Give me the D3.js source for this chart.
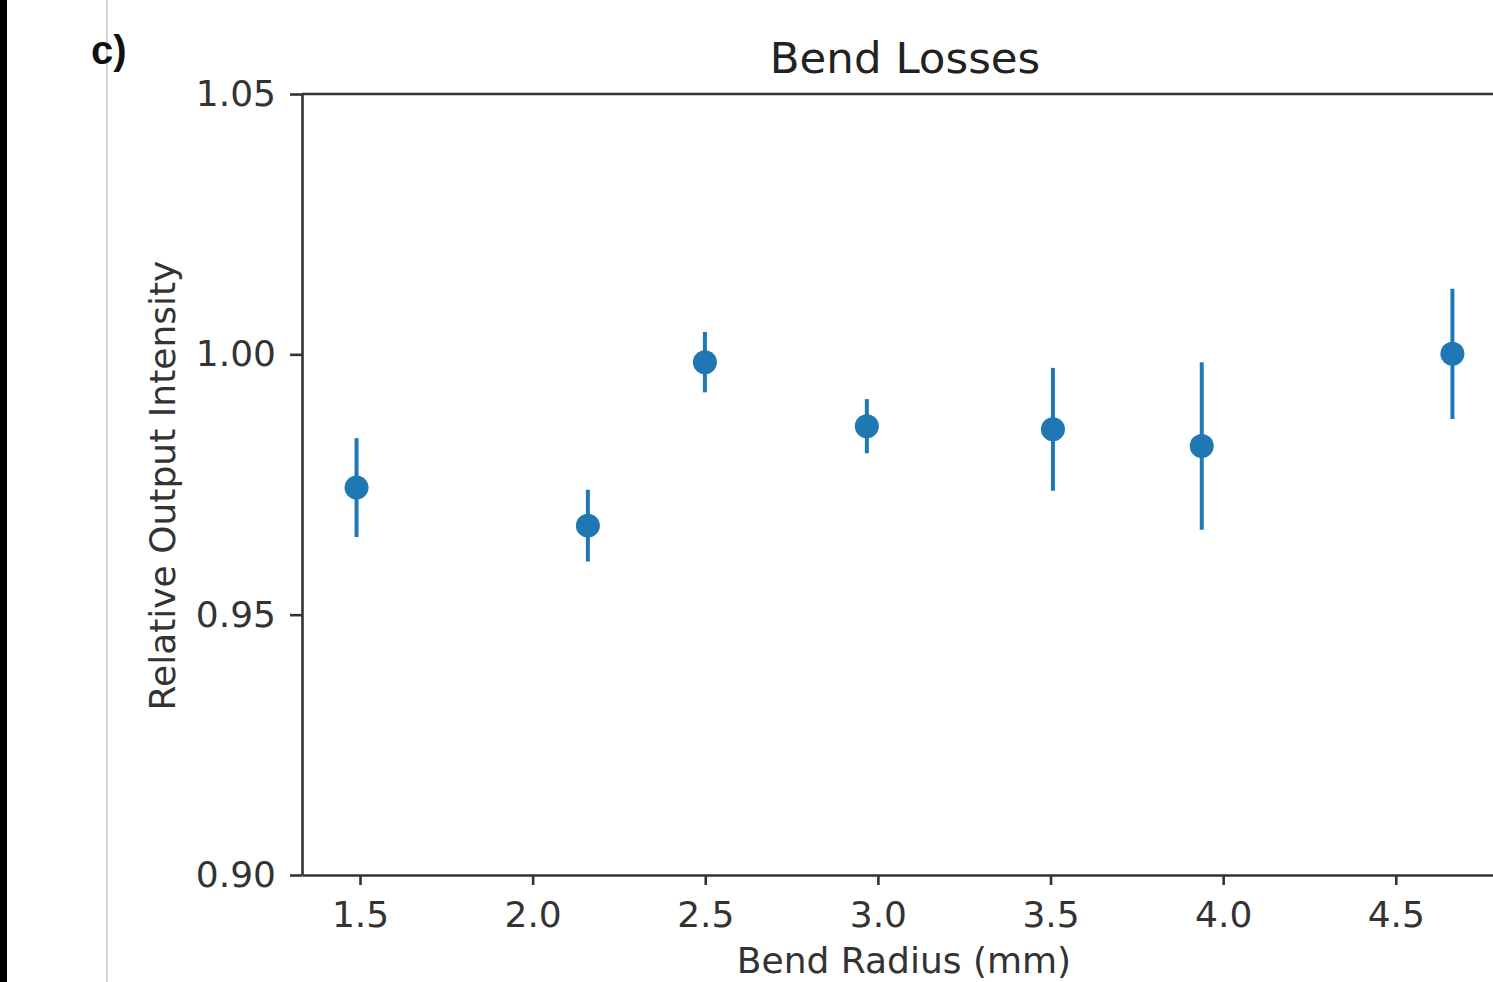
<!DOCTYPE html>
<html>
<head>
<meta charset="utf-8">
<script src="https://cdn.jsdelivr.net/npm/d3@7"></script>
<style>
  body { margin: 0; background: #fff; overflow: hidden; }
  svg { display: block; }
  .axis path, .axis line { stroke: #333; stroke-width: 2.6; }
  .axis text { font-family: "DejaVu Sans", sans-serif; font-size: 36px; fill: #333; }
</style>
</head>
<body>
<div id="chart"></div>
<script>
// data
const radius = [1.49, 2.16, 2.499, 2.968, 3.507, 3.938, 4.664];
const intensity = [0.9744, 0.9671, 0.9985, 0.9862, 0.9856, 0.9824, 1.0001];
const errors = [0.0095, 0.0069, 0.0058, 0.0052, 0.0118, 0.0161, 0.0125];
const xTicks = [1.5, 2.0, 2.5, 3.0, 3.5, 4.0, 4.5];
const yTicks = [0.90, 0.95, 1.00, 1.05];

const width = 1493, height = 982;
const margins = { top: 94, bottom: 107, left: 302, right: -15 };

const svg = d3.select("#chart").append("svg")
  .attr("width", width)
  .attr("height", height);

// black strip and grey separator at left
svg.append("rect").attr("x", 0).attr("y", 0).attr("width", 7).attr("height", height).attr("fill", "#000");
svg.append("line").attr("x1", 107).attr("x2", 107).attr("y1", 0).attr("y2", height)
  .attr("stroke", "#bbb").attr("stroke-width", 1.2);

const xScale = d3.scaleLinear()
  .domain([1.332, 4.825])
  .range([margins.left, width - margins.right]);

const yScale = d3.scaleLinear()
  .domain([0.90, 1.05])
  .range([height - margins.bottom, margins.top]);

// top spine
svg.append("line")
  .attr("x1", margins.left).attr("x2", width - margins.right)
  .attr("y1", margins.top).attr("y2", margins.top)
  .attr("stroke", "#333").attr("stroke-width", 2.6);

svg.append("g")
  .attr("class", "axis x-axis")
  .attr("transform", `translate(0,${height - margins.bottom})`)
  .call(d3.axisBottom(xScale).tickValues(xTicks).tickFormat(d3.format(".1f")).tickSize(10).tickPadding(16).tickSizeOuter(0))
  .call(g => g.selectAll("text").attr("dy", "0.71em"));

svg.append("g")
  .attr("class", "axis y-axis")
  .attr("transform", `translate(${margins.left},0)`)
  .call(d3.axisLeft(yScale).tickValues(yTicks).tickFormat(d3.format(".2f")).tickSize(12).tickPadding(14).tickSizeOuter(0));

// error bars
const points = radius.map((r, i) => ({ r, v: intensity[i], e: errors[i] }));

svg.append("g").attr("class", "errorbars")
  .selectAll("line")
  .data(points)
  .join("line")
  .attr("x1", d => xScale(d.r))
  .attr("x2", d => xScale(d.r))
  .attr("y1", d => yScale(d.v - d.e))
  .attr("y2", d => yScale(d.v + d.e))
  .attr("stroke", "#1f77b4")
  .attr("stroke-width", 4);

svg.append("g").attr("class", "dots")
  .selectAll("circle")
  .data(points)
  .join("circle")
  .attr("cx", d => xScale(d.r))
  .attr("cy", d => yScale(d.v))
  .attr("r", 12)
  .attr("fill", "#1f77b4");

// texts
svg.append("text")
  .attr("x", 905).attr("y", 73)
  .attr("text-anchor", "middle")
  .style("font-family", "DejaVu Sans, sans-serif")
  .style("font-size", "43.5px")
  .style("fill", "#222")
  .text("Bend Losses");

svg.append("text")
  .attr("x", 904).attr("y", 973)
  .attr("text-anchor", "middle")
  .style("font-family", "DejaVu Sans, sans-serif")
  .style("font-size", "36px")
  .style("fill", "#333")
  .text("Bend Radius (mm)");

svg.append("text")
  .attr("transform", `translate(175,${(margins.top + height - margins.bottom) / 2 + 1}) rotate(-90)`)
  .attr("text-anchor", "middle")
  .style("font-family", "DejaVu Sans, sans-serif")
  .style("font-size", "36px")
  .style("fill", "#333")
  .text("Relative Output Intensity");

svg.append("text")
  .attr("x", 91).attr("y", 64)
  .style("font-family", "Liberation Sans, Arial, sans-serif")
  .style("font-weight", "bold")
  .style("font-size", "40px")
  .style("fill", "#111")
  .text("c)");
</script>
</body>
</html>
